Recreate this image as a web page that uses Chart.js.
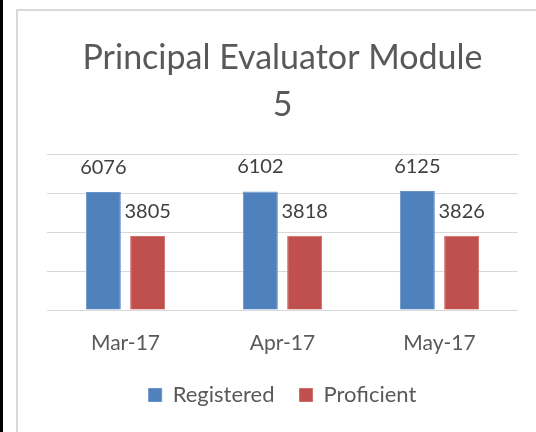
<!DOCTYPE html>
<html>
<head>
<meta charset="utf-8">
<script src="https://cdn.jsdelivr.net/npm/chart.js@4.4.0/dist/chart.umd.min.js"></script>
<style>
  html, body { margin: 0; padding: 0; background: #ffffff; }
  body { width: 536px; height: 432px; position: relative; overflow: hidden; }
  #blackline { position: absolute; left: 0; top: 0; width: 3px; height: 432px; background: #000; }
  #box { position: absolute; left: 16px; top: 9px; width: 600px; height: 500px; border: 2px solid #d9d9d9; box-sizing: border-box; }
  #wrap { position: absolute; left: 0; top: 0; width: 536px; height: 432px; }
</style>
</head>
<body>
<div id="blackline"></div>
<div id="box"></div>
<div id="wrap"><canvas id="c" width="536" height="432"></canvas></div>
<script>
const categories = ['Mar-17', 'Apr-17', 'May-17'];
const registered = [6076, 6102, 6125];
const proficient = [3805, 3818, 3826];
const seriesNames = ['Registered', 'Proficient'];
const titleLines = ['Principal Evaluator Module', '5'];

const FONT = 'Lato, "Open Sans", sans-serif';

const valueLabels = {
  id: 'valueLabels',
  afterDatasetsDraw(chart) {
    const ctx = chart.ctx;
    ctx.save();
    ctx.font = '20px ' + FONT;
    ctx.fillStyle = '#404040';
    ctx.textAlign = 'center';
    ctx.textBaseline = 'alphabetic';
    chart.data.datasets.forEach((ds, di) => {
      const meta = chart.getDatasetMeta(di);
      meta.data.forEach((el, i) => {
        ctx.fillText(String(ds.data[i]), el.x, el.y - 18);
      });
    });
    ctx.restore();
  }
};

new Chart(document.getElementById('c'), {
  type: 'bar',
  data: {
    labels: categories,
    datasets: [
      { label: seriesNames[0], data: registered, backgroundColor: '#4F81BD', borderColor: '#6A93C8', borderWidth: 1,
        categoryPercentage: 0.564, barPercentage: 0.79 },
      { label: seriesNames[1], data: proficient, backgroundColor: '#C0504D', borderColor: '#CC6E6B', borderWidth: 1,
        categoryPercentage: 0.564, barPercentage: 0.79 }
    ]
  },
  options: {
    responsive: false,
    animation: false,
    layout: { padding: { left: 47, right: 18, top: 0, bottom: 16 } },
    scales: {
      x: {
        grid: { display: false },
        border: { display: false },
        ticks: { color: '#595959', font: { family: FONT, size: 21 }, padding: 13 },
        afterFit(scale) { scale.height = 49; }
      },
      y: {
        min: 0, max: 8000,
        ticks: { display: false, stepSize: 2000 },
        grid: { color: '#d9d9d9', lineWidth: 1, drawTicks: false },
        border: { display: false }
      }
    },
    plugins: {
      title: {
        display: true,
        text: titleLines,
        color: '#595959',
        font: { family: FONT, size: 34, weight: 'normal', lineHeight: 1.39 },
        padding: { top: 34, bottom: 26 }
      },
      legend: {
        position: 'bottom',
        labels: {
          color: '#595959',
          font: { family: FONT, size: 22 },
          boxWidth: 13, boxHeight: 13,
          padding: 25
        }
      },
      tooltip: { enabled: false }
    }
  },
  plugins: [valueLabels]
});
</script>
</body>
</html>
